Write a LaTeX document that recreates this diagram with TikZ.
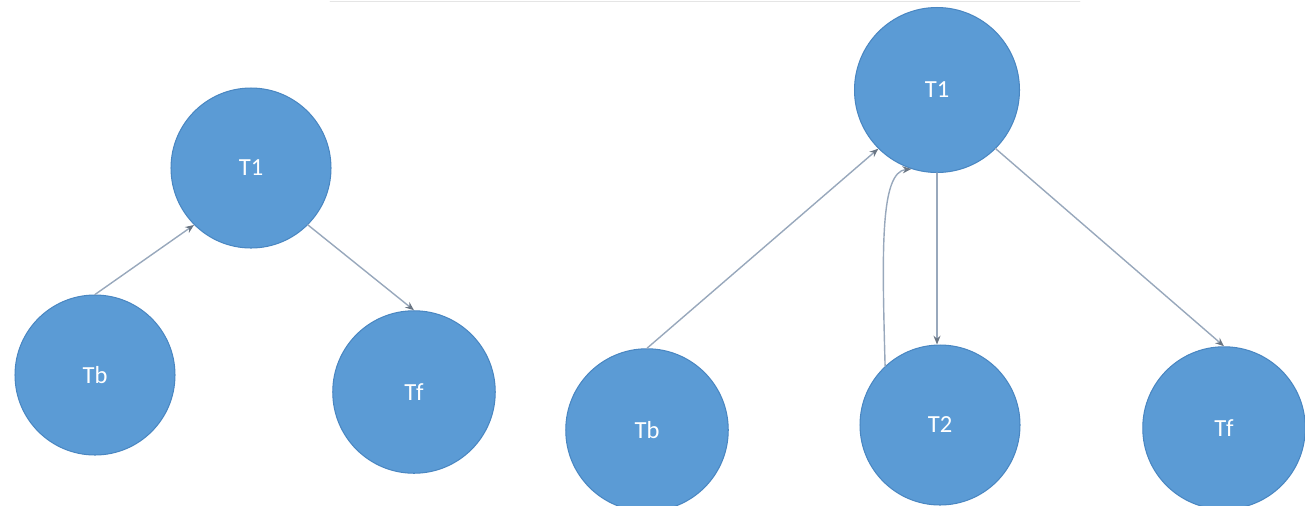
\documentclass[tikz,border=0pt]{standalone}
\usepackage{fontspec}
\setsansfont{Carlito}
\usetikzlibrary{arrows.meta}

\definecolor{nodeblue}{HTML}{5B9BD5}
\definecolor{nodeedge}{HTML}{4A87C2}
\definecolor{linkgray}{HTML}{98A8BC}

\begin{document}
\begin{tikzpicture}[x=0.02cm, y=-0.02cm, line cap=round,
  tnode/.style={circle, fill=nodeblue, draw=nodeedge, line width=0.6pt,
    minimum size=3.2cm, inner sep=0pt, text=white,
    font=\sffamily\fontsize{14}{16}\selectfont},
  link/.style={draw=linkgray, line width=0.8pt,
    -{Stealth[length=5pt, width=4pt, linkgray!70!black]}}]
  \useasboundingbox (0,0) rectangle (1305,505);
  \clip (0,0) rectangle (1305,505);
  \draw[gray!20, line width=0.5pt] (330,1) -- (1080,1);

  % left tree
  \node[tnode] (lt) at (251,168) {T1};
  \node[tnode] (lb) at (95,375) {Tb};
  \node[tnode, minimum size=3.25cm] (lf) at (414,392) {Tf};
  \draw[link] (lb.north) -- (lt.225);
  \draw[link] (lt.315) -- (lf.north);

  % right tree
  \node[tnode, minimum size=3.3cm] (rt) at (937,90) {T1};
  \node[tnode, minimum size=3.25cm] (rb) at (647,430) {Tb};
  \node[tnode] (r2) at (940,425) {T2};
  \node[tnode, minimum size=3.25cm] (rf) at (1224,428) {Tf};
  \draw[link] (rb.north) -- (rt.225);
  \draw[link] (rt.south) -- (rt.south |- r2.north);
  \draw[link] (r2.133) .. controls (882,250) and (880,172) .. (rt.252);
  \draw[link] (rt.315) -- (rf.north);
\end{tikzpicture}
\end{document}
